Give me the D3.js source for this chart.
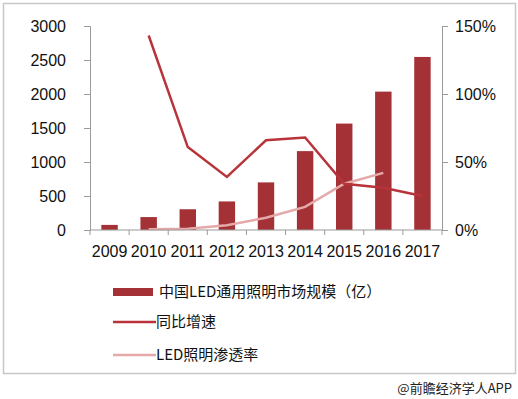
<!DOCTYPE html>
<html>
<head>
<meta charset="utf-8">
<script src="https://cdn.jsdelivr.net/npm/d3@7"></script>
<style>
  body { margin: 0; background: #fff; }
  svg text { font-family: "Liberation Sans", Arial, sans-serif; }
</style>
</head>
<body>
<div id="chart"></div>
<script>
// chart data
const years = ["2009", "2010", "2011", "2012", "2013", "2014", "2015", "2016", "2017"];
const marketSize = [75, 190, 305, 420, 700, 1160, 1565, 2035, 2545];
const growthRate = [null, 143, 61, 39, 66, 68, 34, 31, 25];
const penetration = [null, 0.5, 1, 3.5, 9, 17, 34, 42, null];
const leftTicks = [0, 500, 1000, 1500, 2000, 2500, 3000];
const rightTicks = [0, 50, 100, 150];
const legendLabels = ["中国LED通用照明市场规模（亿）", "同比增速", "LED照明渗透率"];

const W = 518, H = 399;
const margin = { top: 26, right: 76, bottom: 169, left: 90 };
const width = W - margin.left - margin.right,
      height = H - margin.top - margin.bottom;

const svg = d3.select("#chart").append("svg")
    .attr("width", W)
    .attr("height", H);

// outer frame
svg.append("rect")
    .attr("x", 3.5).attr("y", 3.5)
    .attr("width", 512).attr("height", 370)
    .attr("fill", "none")
    .attr("stroke", "#c8c8c8")
    .attr("stroke-width", 1.5);

const g = svg.append("g")
    .attr("transform", `translate(${margin.left},${margin.top})`);

const x = d3.scaleBand().domain(years).range([0, width]).paddingInner(0.58).paddingOuter(0.29);
const xc = d => x(d) + x.bandwidth() / 2;
const y = d3.scaleLinear().domain([0, 3000]).range([height, 0]);
const y2 = d3.scaleLinear().domain([0, 150]).range([height, 0]);

const axisColor = "#9a9a9a";

// bars
g.selectAll(".bar")
    .data(years)
    .enter().append("rect")
    .attr("x", d => x(d))
    .attr("width", x.bandwidth())
    .attr("y", (d, i) => y(marketSize[i]))
    .attr("height", (d, i) => height - y(marketSize[i]))
    .attr("fill", "#a33135");

// lines
const line = d3.line()
    .defined(d => d.v != null)
    .x(d => xc(d.year))
    .y(d => y2(d.v));

g.append("path")
    .datum(years.map((yr, i) => ({ year: yr, v: penetration[i] })))
    .attr("d", line)
    .attr("fill", "none")
    .attr("stroke", "#e5a9a9")
    .attr("stroke-width", 2.5);

g.append("path")
    .datum(years.map((yr, i) => ({ year: yr, v: growthRate[i] })))
    .attr("d", line)
    .attr("fill", "none")
    .attr("stroke", "#b8343a")
    .attr("stroke-width", 2.5);

// axes
const leftAxis = g.append("g")
    .call(d3.axisLeft(y).tickValues(leftTicks).tickSize(6).tickPadding(18)
        .tickFormat(d3.format("d")));
const rightAxis = g.append("g")
    .attr("transform", `translate(${width},0)`)
    .call(d3.axisRight(y2).tickValues(rightTicks).tickSize(6).tickPadding(7)
        .tickFormat(d => d + "%"));

// x axis with ticks between categories
const xAxis = g.append("g").attr("transform", `translate(0,${height})`);
xAxis.append("line")
    .attr("x1", 0).attr("x2", width)
    .attr("stroke", axisColor);
xAxis.selectAll(".tk")
    .data(d3.range(years.length + 1))
    .enter().append("line")
    .attr("x1", i => i * x.step()).attr("x2", i => i * x.step())
    .attr("y1", 0).attr("y2", 5)
    .attr("stroke", axisColor);
xAxis.selectAll(".lbl")
    .data(years)
    .enter().append("text")
    .attr("x", d => xc(d))
    .attr("y", 27)
    .attr("text-anchor", "middle")
    .attr("font-size", 16)
    .attr("fill", "#111")
    .text(d => d);

[leftAxis, rightAxis].forEach(a => {
  a.select(".domain").attr("stroke", axisColor);
  a.selectAll(".tick line").attr("stroke", axisColor);
  a.selectAll(".tick text").attr("font-size", 16).attr("fill", "#111")
      .attr("font-family", "Liberation Sans, Arial, sans-serif");
});

// legend
const legend = svg.append("g");
const ly = [292, 322, 355];
legend.append("rect")
    .attr("x", 113).attr("y", ly[0] - 4)
    .attr("width", 40).attr("height", 8)
    .attr("fill", "#a33135");
legend.append("line")
    .attr("x1", 113).attr("x2", 156).attr("y1", ly[1]).attr("y2", ly[1])
    .attr("stroke", "#b8343a").attr("stroke-width", 2.5);
legend.append("line")
    .attr("x1", 113).attr("x2", 156).attr("y1", ly[2]).attr("y2", ly[2])
    .attr("stroke", "#e5a9a9").attr("stroke-width", 2.5);
legend.selectAll(".lt")
    .data(legendLabels)
    .enter().append("text")
    .attr("x", (d, i) => i === 0 ? 159 : 156)
    .attr("y", (d, i) => ly[i])
    .attr("dy", "0.35em")
    .attr("font-size", 15)
    .attr("fill", "#111")
    .style("font-family", "'Noto Sans CJK SC', sans-serif")
    .text(d => d);

// source note
svg.append("text")
    .attr("x", 512).attr("y", 393)
    .attr("text-anchor", "end")
    .attr("font-size", 13)
    .attr("fill", "#222")
    .style("font-family", "'Noto Sans CJK SC', sans-serif")
    .text("@前瞻经济学人APP");
</script>
</body>
</html>
